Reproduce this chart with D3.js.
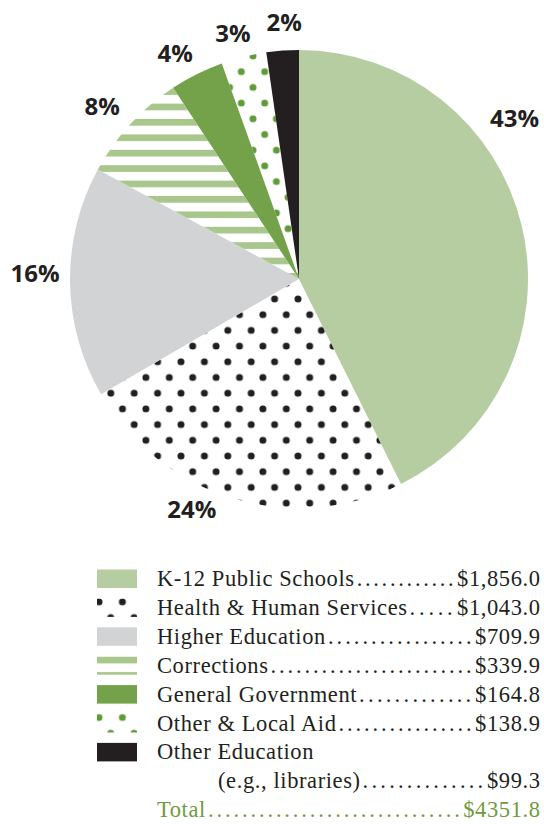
<!DOCTYPE html>
<html>
<head>
<meta charset="utf-8">
<script src="https://cdn.jsdelivr.net/npm/d3@7"></script>
<style>
  html, body { margin: 0; padding: 0; background: #fff; }
  svg { display: block; }
</style>
</head>
<body>
<svg id="chart" width="544" height="824"></svg>
<script>
// Spending by category (millions of dollars)
const categories = [
  "K-12 Public Schools",
  "Health & Human Services",
  "Higher Education",
  "Corrections",
  "General Government",
  "Other & Local Aid",
  "Other Education"
];
const subLabels = ["", "", "", "", "", "", "(e.g., libraries)"];
const amounts = [1856.0, 1043.0, 709.9, 339.9, 164.8, 138.9, 99.3];
const totalLabel = "Total";
const totalAmount = 4351.8;

// Fill style of each category: solid colour, dot screen or stripes
const fillKinds = ["solid", "dots", "solid", "stripes", "solid", "dots", "solid"];
const colors = ["#b5cda0", "#231f20", "#d1d3d4", "#a9c78d", "#74a24b", "#5f9b38", "#231f20"];

// Percentage label placement: angle shift (degrees) from slice middle, distance from centre
const labelShift = [-23.5, 8.3, 2, -1.3, -2.3, -1.1, 0.8];
const labelDist = [269, 254, 264, 262, 257, 254, 257];

const svg = d3.select("#chart");
const defs = svg.append("defs");

const cx = 299, cy = 279, radius = 229;
const dotW = 23.4, dotH = 31.4, dotR = 3.5;
const stripeP = 15.4, stripeT = 6.7;

let patternCount = 0;
function dotPattern(color, ox, oy) {
  const id = "dots" + (patternCount++);
  const p = defs.append("pattern")
    .attr("id", id)
    .attr("patternUnits", "userSpaceOnUse")
    .attr("x", ox).attr("y", oy)
    .attr("width", dotW).attr("height", dotH);
  [[0, 0], [dotW, 0], [0, dotH], [dotW, dotH], [dotW / 2, dotH / 2]].forEach(([x, y]) => {
    p.append("circle").attr("cx", x).attr("cy", y).attr("r", dotR).attr("fill", color);
  });
  return "url(#" + id + ")";
}
function stripePattern(color, oy) {
  const id = "stripes" + (patternCount++);
  const p = defs.append("pattern")
    .attr("id", id)
    .attr("patternUnits", "userSpaceOnUse")
    .attr("x", 0).attr("y", oy)
    .attr("width", 10).attr("height", stripeP);
  p.append("rect").attr("x", 0).attr("y", 0).attr("width", 10).attr("height", stripeT).attr("fill", color);
  return "url(#" + id + ")";
}
function fillFor(i, ox, oy, stripeY) {
  if (fillKinds[i] === "dots") return dotPattern(colors[i], ox, oy);
  if (fillKinds[i] === "stripes") return stripePattern(colors[i], stripeY);
  return colors[i];
}

// Pie, clockwise from 12 o'clock in category order
const pie = d3.pie().sort(null).value(d => d);
const arcs = pie(amounts);
const arc = d3.arc().innerRadius(0).outerRadius(radius);

const pieG = svg.append("g").attr("transform", `translate(${cx},${cy})`);
// pattern origins in pie coordinates
const pieOrigins = [[0, 0], [-1, 20], [0, 0], [0, -160], [0, 0], [-46, -223], [0, 0]];
pieG.selectAll("path.slice")
  .data(arcs)
  .join("path")
  .attr("class", "slice")
  .attr("d", arc)
  .attr("fill", (d, i) => fillFor(i, pieOrigins[i][0], pieOrigins[i][1], pieOrigins[i][1]));

// Percentage labels
const pctFormat = v => Math.round(v / totalAmount * 100) + "%";
pieG.selectAll("text.pct")
  .data(arcs)
  .join("text")
  .attr("class", "pct")
  .attr("x", (d, i) => {
    const a = (d.startAngle + d.endAngle) / 2 + labelShift[i] * Math.PI / 180;
    return Math.sin(a) * labelDist[i];
  })
  .attr("y", (d, i) => {
    const a = (d.startAngle + d.endAngle) / 2 + labelShift[i] * Math.PI / 180;
    return -Math.cos(a) * labelDist[i];
  })
  .attr("dy", "0.36em")
  .attr("text-anchor", "middle")
  .attr("font-family", "'Open Sans', sans-serif")
  .attr("font-weight", 700)
  .attr("font-size", 24)
  .attr("fill", "#231f20")
  .text(d => pctFormat(d.data));

// Legend
const legendX = 157, subX = 218, valueX = 540, swatchX = 97;
const rowStep = 28.9, firstBase = 586;
const fontSize = 22.5;
const leaderStep = 8.6;
const money = d3.format("$,.1f");
const moneyTotal = d3.format("$.1f");

const legend = svg.append("g")
  .attr("font-family", "'Liberation Serif', 'Times New Roman', serif")
  .attr("font-size", fontSize)
  .attr("letter-spacing", 0.6);

// One legend line: label, dot leader, right-aligned amount
function leaderRow(g, x, base, label, value, color) {
  const t = g.append("text").attr("x", x).attr("y", base).attr("fill", color).text(label);
  const labelEnd = x + t.node().getComputedTextLength();
  if (value === null) return;
  const v = g.append("text").attr("x", valueX + 0.6).attr("y", base)
    .attr("text-anchor", "end").attr("fill", color).text(value);
  const valueStart = valueX - v.node().getComputedTextLength();
  const start = labelEnd + 1, end = valueStart - 1;
  const n = Math.max(0, Math.round((end - start) / leaderStep));
  const step = n > 0 ? (end - start) / n : 0;
  const xs = d3.range(n).map(k => (start + k * step + 1).toFixed(1));
  g.append("text").attr("x", xs.join(" ")).attr("y", base).attr("fill", color)
    .text(".".repeat(n));
}

let row = 0;
categories.forEach((name, i) => {
  const base = firstBase + row * rowStep;
  const top = base - 16.5;
  legend.append("rect")
    .attr("x", swatchX).attr("y", top)
    .attr("width", 40).attr("height", 18.5)
    .attr("fill", fillFor(i, swatchX + 2, top + 3.5, top + 0.5));
  const hasSub = subLabels[i] !== "";
  leaderRow(legend, legendX, base, name, hasSub ? null : money(amounts[i]), "#231f20");
  row++;
  if (hasSub) {
    leaderRow(legend, subX, firstBase + row * rowStep, subLabels[i], money(amounts[i]), "#231f20");
    row++;
  }
});
leaderRow(legend, legendX, firstBase + row * rowStep, totalLabel, moneyTotal(totalAmount), "#6f9a3e");
</script>
</body>
</html>
